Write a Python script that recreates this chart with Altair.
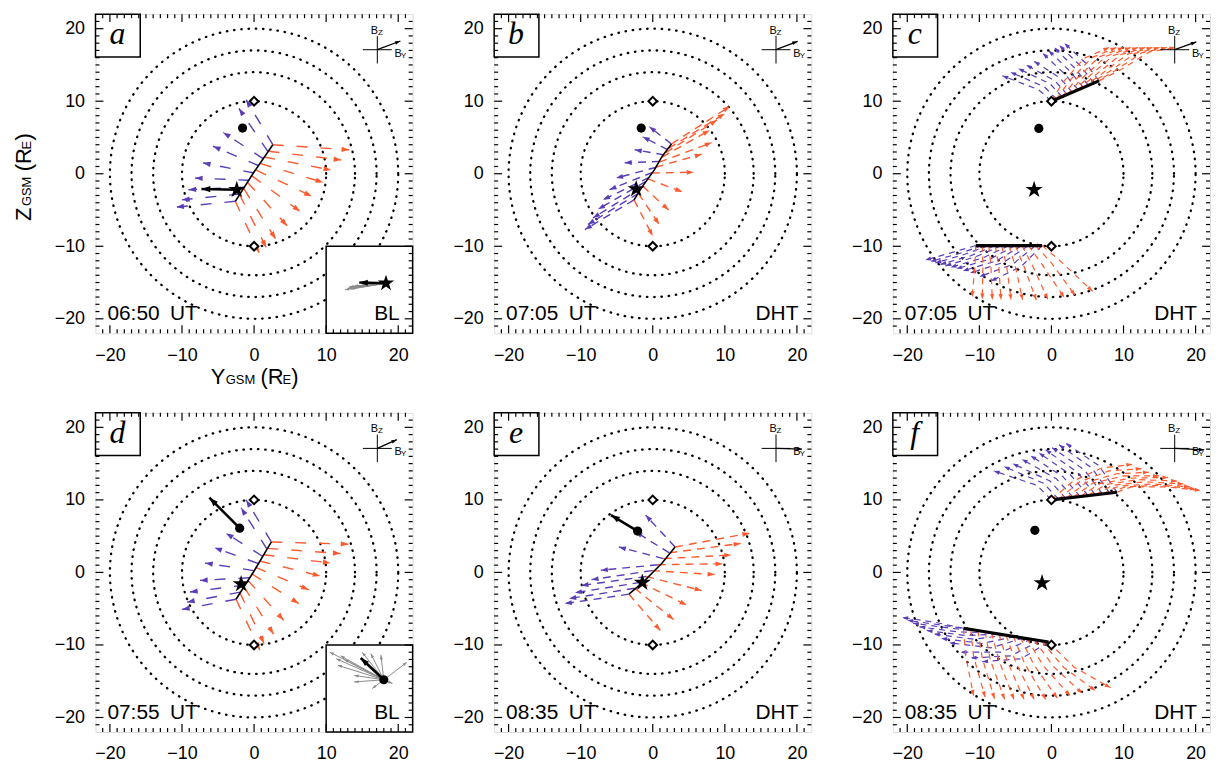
import math
import pandas as pd
import altair as alt

BLUE = "#5a3cb8"
RED = "#ff5a2e"
FONT = "Liberation Sans"
SERIF = "Liberation Serif"

W, H = 319, 321
DOM = [-22, 22]
RADII = [10, 14, 17, 20]
MAJOR = [-20, -10, 0, 10, 20]
MINOR = [v for v in range(-21, 22) if v % 10 != 0]

LETTERS = ["a", "b", "c", "d", "e", "f"]
TIMES = ["06:50", "07:05", "07:05", "07:55", "08:35", "08:35"]
TAGS = ["BL", "DHT", "DHT", "BL", "DHT", "DHT"]

STAR_X = [-2.4, -2.3, -2.4, -1.8, -1.45, -1.3]
STAR_Y = [-2.2, -2.1, -2.2, -1.6, -1.4, -1.45]
DOT_X = [-1.6, -1.6, -1.75, -2.0, -2.1, -2.3]
DOT_Y = [6.3, 6.3, 6.25, 6.1, 5.7, 5.8]
DIAMOND_Y = [10, -10]
IMF_BY = [3.2, 3.0, 3.0, 2.7, 3.6, 4.1]
IMF_BZ = [1.2, 1.15, 1.07, 1.2, -0.1, -0.2]

# thick black velocity arrows (start, end)
ARROWS = {0: [(-2.4, -2.2), (-7.3, -2.1)],
          3: [(-2.0, 6.1), (-6.2, 10.3)],
          4: [(-2.1, 5.7), (-5.8, 7.9)]}

# BL hodogram insets
A_BL_ORIGIN = (18.3, -15.1)
A_BL_MEAN = (14.6, -15.0)
A_BL_GRAY = [(12.6, -16.0), (13.0, -15.8), (13.4, -15.9), (13.8, -15.5),
             (14.2, -15.6), (15.0, -15.3), (13.2, -15.6)]
D_BL_ORIGIN = (18.0, -14.8)
D_BL_MEAN = (14.8, -11.8)
D_BL_GRAY = [(10.5, -11.0), (11.4, -11.9), (11.6, -12.8), (12.5, -12.0),
             (13.9, -14.2), (13.9, -15.1), (16.4, -16.0), (19.2, -15.3),
             (21.2, -12.4), (17.6, -11.4), (16.2, -11.2), (15.0, -11.0),
             (12.0, -11.5)]

# X-line traces
A_LINE = [(-2.6, -3.8), (-0.1, 0.1), (2.6, 4.0)]
B_LINE = [(-2.6, -3.6), (-1.4, -1.7), (0.2, 0.5), (1.3, 2.4), (2.6, 4.1)]
C_LINE_TOP = [(0.0, 10.0), (6.6, 12.8)]
C_LINE_BOT = [(-10.5, -9.9), (-1.3, -9.9)]
D_LINE = [(-2.5, -3.7), (0.0, 0.2), (2.4, 4.2)]
E_LINE = [(-3.3, -3.0), (-1.2, -1.2), (1.3, 1.3), (3.1, 3.5)]
F_LINE_TOP = [(0.0, 10.0), (9.1, 11.05)]
F_LINE_BOT = [(-12.2, -7.7), (-0.4, -9.6)]

# flow rows (each row: stick trace, arrow at its end)
A_RED = [[(2.6, 4.0), (13.2, 3.3)], [(2.0, 3.1), (12.1, 1.9)], [(1.4, 2.3), (10.7, 0.5)],
         [(0.9, 1.4), (9.6, -1.2)], [(0.3, 0.5), (8.0, -3.1)], [(-0.3, -0.3), (6.4, -5.2)],
         [(-0.9, -1.2), (4.6, -7.2)], [(-1.4, -2.1), (3.0, -9.0)], [(-2.0, -2.9), (1.7, -10.2)],
         [(-2.6, -3.8), (0.7, -10.9)]]
A_BLUE = [[(2.6, 4.0), (-1.1, 10.2)], [(1.95, 3.0), (-2.1, 9.0)], [(1.3, 2.05), (-4.3, 5.7)],
          [(0.65, 1.1), (-5.7, 3.8)], [(0.0, 0.1), (-7.1, 1.5)], [(-0.65, -0.9), (-8.2, -0.6)],
          [(-1.3, -1.85), (-9.1, -2.2)], [(-1.95, -2.8), (-10.0, -3.6)], [(-2.6, -3.8), (-10.8, -4.6)]]
B_RED = [[(2.6, 4.1), (10.7, 9.3)], [(2.2, 3.5), (10.0, 8.3)], [(1.8, 2.9), (8.9, 7.4)],
         [(1.3, 2.3), (7.9, 6.0)], [(0.9, 1.6), (8.2, 4.3)], [(0.4, 0.9), (6.8, 2.7)],
         [(-0.1, 0.1), (5.7, 0.2)], [(-0.7, -0.7), (4.1, -2.5)], [(-1.4, -1.7), (2.2, -5.0)],
         [(-2.0, -2.7), (0.9, -7.0)], [(-2.6, -3.6), (0.0, -8.6)]]
B_BLUE = [[(2.6, 4.1), (-0.5, 6.5)], [(2.1, 3.3), (-1.4, 5.1)], [(1.6, 2.6), (-2.5, 3.3)],
          [(1.0, 1.7), (-3.9, 1.5)], [(0.5, 0.9), (-5.1, -0.6)], [(0.0, 0.2), (-6.0, -2.2)],
          [(-0.5, -0.5), (-6.9, -3.6)], [(-1.0, -1.1), (-7.6, -4.9)], [(-1.5, -1.9), (-8.3, -6.1)],
          [(-2.0, -2.7), (-9.0, -7.0)], [(-2.6, -3.6), (-9.4, -7.7)]]
C_RED = [
    [(0.0, 10.0), (1.6, 12.6), (4.5, 15.9), (8.0, 17.4)],
    [(0.7, 10.3), (2.5, 12.8), (5.6, 16.0), (9.0, 17.4)],
    [(1.5, 10.6), (3.4, 13.0), (6.6, 16.1), (10.0, 17.4)],
    [(2.2, 10.9), (4.3, 13.2), (7.6, 16.2), (11.0, 17.4)],
    [(2.9, 11.2), (5.2, 13.4), (8.6, 16.3), (12.0, 17.4)],
    [(3.7, 11.6), (6.1, 13.6), (9.6, 16.4), (13.0, 17.4)],
    [(4.4, 11.9), (7.0, 13.8), (10.6, 16.5), (14.0, 17.4)],
    [(5.1, 12.2), (7.9, 14.0), (11.6, 16.6), (15.0, 17.4)],
    [(5.9, 12.5), (8.8, 14.2), (12.6, 16.7), (16.0, 17.4)],
    [(6.6, 12.8), (9.7, 14.4), (13.6, 16.8), (17.2, 17.4)],
    [(-10.5, -9.9), (-10.6, -12.5), (-11.0, -17.0)],
    [(-9.6, -9.9), (-9.5, -12.5), (-9.6, -17.3)],
    [(-8.7, -9.9), (-8.4, -12.6), (-8.2, -17.4)],
    [(-7.8, -9.9), (-7.3, -12.7), (-7.0, -17.4)],
    [(-6.9, -9.9), (-6.2, -12.8), (-5.6, -17.4)],
    [(-5.9, -9.9), (-5.0, -12.8), (-4.0, -17.4)],
    [(-5.0, -9.9), (-3.8, -12.8), (-2.1, -17.4)],
    [(-4.1, -9.9), (-2.6, -12.7), (-0.5, -17.3)],
    [(-3.2, -9.9), (-1.3, -12.5), (1.8, -17.1)],
    [(-2.2, -9.9), (0.0, -12.3), (3.3, -16.8)],
    [(-1.3, -9.9), (1.2, -12.0), (5.7, -16.2)],
]
C_BLUE = [
    [(0.0, 10.0), (-1.8, 11.6), (-6.8, 13.5)],
    [(0.7, 10.3), (-1.0, 12.0), (-5.7, 14.0)],
    [(1.5, 10.6), (-0.2, 12.4), (-4.6, 14.5)],
    [(2.2, 10.9), (0.5, 12.8), (-3.5, 15.0)],
    [(2.9, 11.2), (1.2, 13.2), (-2.4, 15.5)],
    [(3.7, 11.6), (1.9, 13.7), (-1.2, 16.6)],
    [(4.4, 11.9), (2.6, 14.1), (-0.4, 17.0)],
    [(5.1, 12.2), (3.3, 14.5), (0.4, 17.4)],
    [(5.9, 12.5), (4.0, 14.9), (1.1, 17.7)],
    [(6.6, 12.8), (4.7, 15.3), (1.8, 18.0)],
    [(-10.5, -9.9), (-13.6, -10.8), (-17.5, -11.9)],
    [(-9.6, -9.9), (-12.8, -11.0), (-16.8, -12.1)],
    [(-8.7, -9.9), (-12.0, -11.1), (-16.1, -12.3)],
    [(-7.8, -9.9), (-11.2, -11.3), (-15.4, -12.5)],
    [(-6.9, -9.9), (-10.4, -11.4), (-14.7, -12.7)],
    [(-5.9, -9.9), (-9.5, -11.6), (-14.0, -12.9)],
    [(-5.0, -9.9), (-8.6, -11.8), (-13.2, -13.1)],
    [(-4.1, -9.9), (-7.6, -12.0), (-12.3, -13.4)],
    [(-3.2, -9.9), (-6.6, -12.2), (-11.3, -13.7)],
    [(-2.2, -9.9), (-5.4, -12.5), (-10.0, -14.2)],
    [(-1.3, -9.9), (-4.2, -12.8), (-8.4, -14.8)],
]
D_RED = [[(2.4, 4.2), (13.1, 3.9)], [(1.86, 3.32), (12.0, 2.6)], [(1.31, 2.44), (10.6, 1.3)],
         [(0.77, 1.57), (9.2, -0.5)], [(0.22, 0.69), (7.6, -2.4)], [(-0.32, -0.19), (6.2, -4.3)],
         [(-0.87, -1.07), (4.1, -6.6)], [(-1.41, -1.94), (2.7, -8.5)], [(-1.96, -2.82), (1.4, -9.8)],
         [(-2.5, -3.7), (0.8, -10.7)]]
D_BLUE = [[(2.4, 4.2), (-1.1, 10.0)], [(1.79, 3.21), (-1.8, 8.9)], [(1.18, 2.23), (-3.9, 5.4)],
          [(0.56, 1.24), (-5.5, 3.4)], [(-0.05, 0.25), (-6.8, 1.3)], [(-0.66, -0.74), (-7.5, -1.1)],
          [(-1.28, -1.73), (-8.9, -2.7)], [(-1.89, -2.71), (-9.3, -4.1)], [(-2.5, -3.7), (-10.0, -5.1)]]
E_RED = [[(3.1, 3.5), (13.4, 5.4)], [(2.3, 2.7), (12.2, 4.0)], [(1.5, 1.9), (10.9, 2.4)],
         [(0.7, 1.06), (9.7, 1.2)], [(-0.1, 0.25), (8.6, -0.3)], [(-0.9, -0.56), (6.8, -2.5)],
         [(-1.7, -1.38), (4.7, -4.5)], [(-2.5, -2.19), (2.9, -6.5)], [(-3.3, -3.0), (1.05, -8.0)]]
E_BLUE = [[(3.1, 3.5), (-1.0, 7.9)], [(2.3, 2.7), (-2.4, 5.6)], [(1.5, 1.9), (-4.7, 3.5)],
          [(0.7, 1.06), (-7.2, 0.3)], [(-0.1, 0.25), (-8.5, -1.0)], [(-0.9, -0.56), (-9.9, -1.8)],
          [(-1.7, -1.38), (-10.8, -2.8)], [(-2.5, -2.19), (-11.6, -3.6)], [(-3.3, -3.0), (-12.2, -4.3)]]
F_RED = [
    [(0.0, 10.0), (3.0, 12.6), (7.0, 14.4), (11.2, 14.9)],
    [(1.0, 10.1), (3.9, 12.5), (8.0, 14.0), (12.5, 14.3)],
    [(2.0, 10.2), (4.8, 12.4), (9.0, 13.6), (13.5, 13.8)],
    [(3.0, 10.35), (5.7, 12.3), (10.0, 13.3), (14.9, 13.3)],
    [(4.0, 10.45), (6.6, 12.2), (11.0, 13.0), (16.2, 13.1)],
    [(5.1, 10.6), (7.5, 12.1), (12.0, 12.8), (17.4, 12.6)],
    [(6.1, 10.7), (8.4, 12.0), (13.0, 12.5), (18.3, 12.2)],
    [(7.1, 10.8), (9.3, 11.9), (14.0, 12.2), (19.2, 11.8)],
    [(8.1, 10.9), (10.2, 11.8), (15.0, 12.0), (20.0, 11.5)],
    [(9.1, 11.05), (11.1, 11.8), (16.0, 11.8), (20.7, 11.3)],
    [(-12.2, -7.7), (-11.9, -11.5), (-10.8, -17.0)],
    [(-11.2, -7.86), (-10.8, -11.6), (-9.2, -17.2)],
    [(-10.2, -8.02), (-9.6, -11.8), (-7.9, -17.4)],
    [(-9.2, -8.18), (-8.5, -12.0), (-6.5, -17.5)],
    [(-8.3, -8.33), (-7.3, -12.1), (-5.2, -17.5)],
    [(-7.3, -8.49), (-6.1, -12.3), (-3.8, -17.5)],
    [(-6.3, -8.65), (-4.9, -12.5), (-2.4, -17.5)],
    [(-5.3, -8.81), (-3.7, -12.6), (-0.8, -17.5)],
    [(-4.3, -8.97), (-2.4, -12.8), (0.8, -17.3)],
    [(-3.4, -9.13), (-1.1, -12.9), (2.6, -17.0)],
    [(-2.4, -9.28), (0.3, -13.0), (4.3, -16.7)],
    [(-1.4, -9.44), (1.7, -13.1), (6.1, -16.3)],
    [(-0.4, -9.6), (3.2, -13.1), (8.2, -15.9)],
]
F_BLUE = [
    [(0.0, 10.0), (-2.0, 12.0), (-8.0, 14.0)],
    [(1.0, 10.1), (-1.1, 12.3), (-6.6, 14.6)],
    [(2.0, 10.2), (-0.2, 12.6), (-5.4, 15.0)],
    [(3.0, 10.35), (0.7, 12.9), (-4.1, 15.6)],
    [(4.0, 10.45), (1.6, 13.2), (-2.9, 16.1)],
    [(5.1, 10.6), (2.6, 13.5), (-1.75, 16.5)],
    [(6.1, 10.7), (3.6, 13.8), (-0.8, 16.9)],
    [(7.1, 10.8), (4.6, 14.1), (0.1, 17.2)],
    [(8.1, 10.9), (5.6, 14.4), (1.05, 17.6)],
    [(9.1, 11.05), (6.6, 14.7), (2.0, 17.8)],
    [(-12.2, -7.7), (-16.0, -6.9), (-20.7, -6.2)],
    [(-11.0, -7.9), (-15.0, -7.3), (-20.0, -6.6)],
    [(-9.8, -8.1), (-14.0, -7.7), (-19.2, -7.0)],
    [(-8.7, -8.3), (-13.0, -8.2), (-18.3, -7.5)],
    [(-7.5, -8.5), (-11.9, -8.7), (-17.3, -8.0)],
    [(-6.3, -8.65), (-10.8, -9.2), (-16.3, -8.5)],
    [(-5.1, -8.85), (-9.6, -9.8), (-15.3, -9.1)],
    [(-3.9, -9.05), (-8.4, -10.4), (-14.2, -9.7)],
    [(-2.8, -9.2), (-7.0, -11.0), (-12.6, -11.0)],
    [(-1.6, -9.4), (-5.6, -11.5), (-11.2, -11.8)],
    [(-0.4, -9.6), (-4.2, -11.9), (-9.6, -12.3)],
]

XS = alt.Scale(domain=DOM, nice=False, zero=False)
YS = alt.Scale(domain=DOM, nice=False, zero=False)
HEAD = "M0,0L0.8,2.3L-0.8,2.3Z"
STAR = ("M0,-1L0.2245,-0.309L0.951,-0.309L0.363,0.118L0.588,0.809L0,0.382"
        "L-0.588,0.809L-0.363,0.118L-0.951,-0.309L-0.2245,-0.309Z")
ONE = pd.DataFrame({"k": [0]})


def enc(xf="x", yf="y"):
    return dict(x=alt.X(f"{xf}:Q", scale=XS, axis=None),
                y=alt.Y(f"{yf}:Q", scale=YS, axis=None))


def rows_df(rows, color, tag):
    recs = []
    for i, row in enumerate(rows):
        for j, (x, y) in enumerate(row):
            recs.append({"row": f"{tag}{i}", "o": j, "x": x, "y": y, "c": color})
    return pd.DataFrame(recs)


def heads_df(pairs, color):
    recs = []
    for (x0, y0), (x1, y1) in pairs:
        ang = math.degrees(math.atan2(x1 - x0, y1 - y0)) % 360
        recs.append({"x": x1, "y": y1, "a": ang, "c": color})
    return pd.DataFrame(recs)


def line_layer(pts, width, color="black"):
    df = pd.DataFrame({"x": [p[0] for p in pts], "y": [p[1] for p in pts],
                       "o": list(range(len(pts)))})
    return alt.Chart(df).mark_line(color=color, strokeWidth=width).encode(
        order="o:Q", **enc())


def head_layer(df, size):
    return alt.Chart(df).mark_point(shape=HEAD, filled=True, opacity=1, size=size,
                                    strokeWidth=0).encode(
        angle=alt.Angle("a:Q", scale=None), color=alt.Color("c:N", scale=None), **enc())


def arrow_layers(p0, p1, width, size, color="black"):
    return [line_layer([p0, p1], width, color),
            head_layer(heads_df([(p0, p1)], color), size)]


def text_layer(text, px, py, size, font=FONT, align="left", baseline="alphabetic",
               angle=0, style="normal"):
    return alt.Chart(ONE).mark_text(text=text, font=font, fontSize=size, align=align,
                                    baseline=baseline, angle=angle, fontStyle=style,
                                    color="black").encode(
        x=alt.value(px), y=alt.value(py))


def tick_layers():
    out = []
    for vals, ln in [(MAJOR, 8), (MINOR, 4)]:
        df = pd.DataFrame({"v": vals})
        xv = alt.X("v:Q", scale=XS, axis=None)
        yv = alt.Y("v:Q", scale=YS, axis=None)
        rule = dict(color="black", strokeWidth=1.2)
        out.append(alt.Chart(df).mark_rule(**rule).encode(
            x=xv, y=alt.value(H), y2=alt.value(H - ln)))
        out.append(alt.Chart(df).mark_rule(**rule).encode(
            x=xv, y=alt.value(0), y2=alt.value(ln)))
        out.append(alt.Chart(df).mark_rule(**rule).encode(
            y=yv, x=alt.value(0), x2=alt.value(ln)))
        out.append(alt.Chart(df).mark_rule(**rule).encode(
            y=yv, x=alt.value(W), x2=alt.value(W - ln)))
    return out


def label_axis(orient):
    return alt.Axis(orient=orient, values=MAJOR, ticks=False, tickSize=0, domain=False,
                    grid=False, title=None, labelFont=FONT, labelFontSize=18,
                    labelColor="black", labelPadding=13 if orient == "bottom" else 11,
                    labelFlush=False, labelOverlap=False)


circ = []
for r in RADII:
    for t in range(0, 361, 2):
        circ.append({"r": r, "t": t, "x": r * math.cos(math.radians(t)),
                     "y": r * math.sin(math.radians(t))})
CIRC = pd.DataFrame(circ)

PANELS = [
    dict(red=A_RED, blue=A_BLUE, lines=[A_LINE], lw=1.6, dash=[11, 13], sw=1.4, hs=45,
         inset=(A_BL_ORIGIN, A_BL_MEAN, A_BL_GRAY, "star")),
    dict(red=B_RED, blue=B_BLUE, lines=[B_LINE], lw=1.6, dash=[8, 6], sw=1.4, hs=38,
         inset=None),
    dict(red=C_RED, blue=C_BLUE, lines=[C_LINE_TOP, C_LINE_BOT], lw=3.2, dash=[6, 5],
         sw=1.2, hs=26, inset=None),
    dict(red=D_RED, blue=D_BLUE, lines=[D_LINE], lw=1.6, dash=[11, 13], sw=1.4, hs=45,
         inset=(D_BL_ORIGIN, D_BL_MEAN, D_BL_GRAY, "dot")),
    dict(red=E_RED, blue=E_BLUE, lines=[E_LINE], lw=1.6, dash=[8, 6], sw=1.4, hs=38,
         inset=None),
    dict(red=F_RED, blue=F_BLUE, lines=[F_LINE_TOP, F_LINE_BOT], lw=3.2, dash=[6, 5],
         sw=1.2, hs=26, inset=None),
]

CX, CY = 17.1, 17.1


def build(i):
    p = PANELS[i]
    L = []
    L.append(alt.Chart(pd.DataFrame({"x": [0], "y": [0]})).mark_point(opacity=0).encode(
        x=alt.X("x:Q", scale=XS, axis=label_axis("bottom")),
        y=alt.Y("y:Q", scale=YS, axis=label_axis("left"))))
    L.append(alt.Chart(CIRC).mark_line(color="black", strokeWidth=2.3,
                                       strokeDash=[0.5, 6.8], strokeCap="round").encode(
        detail="r:N", order="t:Q", **enc()))
    if p["inset"] is not None:
        org, mean, gray, kind = p["inset"]
        box = pd.DataFrame({"x": [10], "x2": [22], "y": [-22], "y2": [-10]})
        L.append(alt.Chart(box).mark_rect(fill="white", stroke="black", strokeWidth=1.5).encode(
            x2="x2:Q", y2="y2:Q", **enc()))
        gdf = pd.DataFrame([{"x": org[0], "y": org[1], "x2": g[0], "y2": g[1]} for g in gray])
        L.append(alt.Chart(gdf).mark_rule(color="#8a8a8a", strokeWidth=1).encode(
            x2="x2:Q", y2="y2:Q", **enc()))
        L.append(head_layer(heads_df([(org, g) for g in gray], "#8a8a8a"), 14))
        L += arrow_layers(org, mean, 2.6, 55)
        if kind == "star":
            L.append(alt.Chart(pd.DataFrame({"x": [org[0]], "y": [org[1]]})).mark_point(
                shape=STAR, filled=True, color="black", opacity=1, size=300).encode(**enc()))
        else:
            L.append(alt.Chart(pd.DataFrame({"x": [org[0]], "y": [org[1]]})).mark_point(
                shape="circle", filled=True, color="black", opacity=1, size=85).encode(**enc()))
    for rows, col, tag in [(p["blue"], BLUE, "b"), (p["red"], RED, "r")]:
        L.append(alt.Chart(rows_df(rows, col, tag)).mark_line(
            strokeWidth=p["sw"], strokeDash=p["dash"]).encode(
            detail="row:N", order="o:Q", color=alt.Color("c:N", scale=None), **enc()))
        L.append(head_layer(heads_df([(r[-2], r[-1]) for r in rows], col), p["hs"]))
    for ln in p["lines"]:
        L.append(line_layer(ln, p["lw"]))
    L.append(alt.Chart(pd.DataFrame({"x": [0, 0], "y": DIAMOND_Y})).mark_point(
        shape="diamond", filled=True, fill="white", stroke="black", strokeWidth=2,
        opacity=1, size=75).encode(**enc()))
    L.append(alt.Chart(pd.DataFrame({"x": [DOT_X[i]], "y": [DOT_Y[i]]})).mark_point(
        shape="circle", filled=True, color="black", opacity=1, size=85).encode(**enc()))
    L.append(alt.Chart(pd.DataFrame({"x": [STAR_X[i]], "y": [STAR_Y[i]]})).mark_point(
        shape=STAR, filled=True, color="black", opacity=1, size=330).encode(**enc()))
    if i in ARROWS:
        L += arrow_layers(ARROWS[i][0], ARROWS[i][1], 2.6, 60)
    # IMF compass
    cross = pd.DataFrame({"x": [CX - 2.0, CX], "x2": [CX + 2.0, CX],
                          "y": [CY, CY - 1.9], "y2": [CY, CY + 1.9]})
    L.append(alt.Chart(cross).mark_rule(color="black", strokeWidth=1).encode(
        x2="x2:Q", y2="y2:Q", **enc()))
    L += arrow_layers((CX, CY), (CX + IMF_BY[i], CY + IMF_BZ[i]), 1.3, 22)
    lab = pd.DataFrame({"x": [CX], "y": [CY]})
    for t, dx, dy, fs in [("B", -3, -19, 11), ("Z", 3, -17, 8), ("B", 21, 4, 11), ("Y", 26.5, 6, 8)]:
        L.append(alt.Chart(lab).mark_text(text=t, font=FONT, fontSize=fs, dx=dx, dy=dy,
                                          align="center", baseline="middle",
                                          color="black").encode(**enc()))
    # panel letter box
    L.append(alt.Chart(ONE).mark_rect(fill="white", stroke="black", strokeWidth=1.5).encode(
        x=alt.value(0), x2=alt.value(45), y=alt.value(0), y2=alt.value(43)))
    L.append(text_layer(LETTERS[i], 22, 30, 32, font=SERIF, align="center", style="italic"))
    L.append(text_layer(TIMES[i] + "\u2002UT", 12, 308, 21))
    L.append(text_layer(TAGS[i], 306, 308, 21, align="right"))
    if i == 0:
        for t, x, fs in [("Y", 116, 22), ("GSM", 131, 13), ("(R", 166, 22), ("E", 188, 13), (")", 197, 22)]:
            L.append(text_layer(t, x, 372, fs))
        for t, y, fs in [("Z", 208, 22), ("GSM", 193, 13), ("(R", 158, 22), ("E", 136, 13), (")", 127, 22)]:
            L.append(text_layer(t, -65, y, fs, angle=270))
    L += tick_layers()
    return alt.layer(*L).properties(width=W, height=H).resolve_axis(
        x="independent", y="independent")


chart = alt.concat(*[build(i) for i in range(6)], columns=3,
                   spacing=alt.RowColnumber(row=80, column=82), bounds="flush").properties(
    padding={"left": 4, "top": 2, "right": 0, "bottom": 0}
).configure_view(stroke="black", strokeWidth=1.5).configure(background="white")

chart.save("out.html", embed_options={"renderer": "svg", "actions": False})
